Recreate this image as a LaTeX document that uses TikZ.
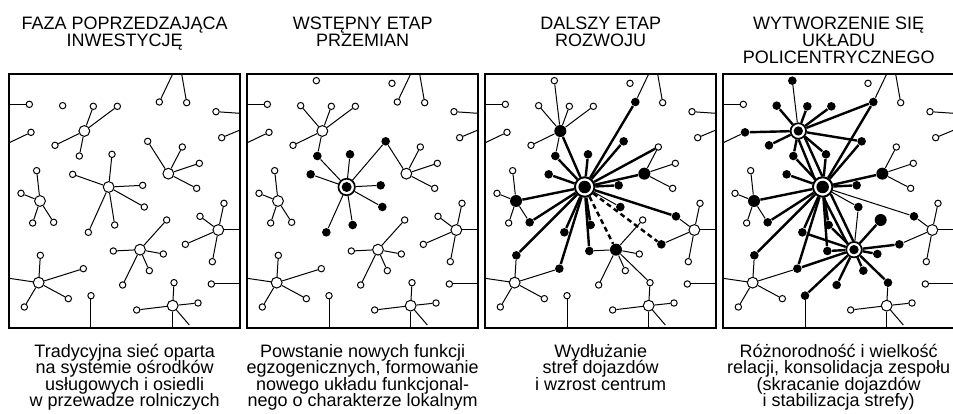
\documentclass[tikz,border=0pt]{standalone}
\usepackage{fontspec}
\setmainfont{Liberation Sans}
\newcommand\placenodes{%
  \coordinate (e1) at (28,133);
  \coordinate (e2) at (28,248);
  \coordinate (e3) at (518,42);
  \coordinate (e4) at (545,42);
  \coordinate (e5) at (720,160);
  \coordinate (e6) at (720,210);
  \coordinate (e7) at (720,510);
  \coordinate (e8) at (28,655);
  \coordinate (e9) at (273,805);
  \coordinate (e10) at (720,672);
  \coordinate (e11) at (518,805);
  \coordinate (e12) at (568,795);
  \node[oc,s-a1/.try] (a1) at (88,133) {};
  \node[oc,s-a2/.try] (a2) at (93,217) {};
  \node[oc,s-a3/.try] (a3) at (188,137) {};
  \node[oc,s-a5/.try] (a5) at (280,139) {};
  \node[oc,s-a6/.try] (a6) at (352,139) {};
  \node[oc,s-a7/.try] (a7) at (165,256) {};
  \node[oc,s-a8/.try] (a8) at (238,288) {};
  \node[oc,s-a9/.try] (a9) at (478,126) {};
  \node[oc] (a10) at (560,128) {};
  \node[oc] (a12) at (648,155) {};
  \node[oc] (a13) at (665,233) {};
  \node[oc,s-a14/.try] (a14) at (443,244) {};
  \node[oc] (a15) at (547,261) {};
  \node[oc] (a16) at (598,310) {};
  \node[oc] (a17) at (590,385) {};
  \node[oc,s-a18/.try] (a18) at (336,283) {};
  \node[oc,s-a19/.try] (a19) at (218,343) {};
  \node[oc,s-a20/.try] (a20) at (428,376) {};
  \node[oc,s-a21/.try] (a21) at (433,441) {};
  \node[oc,s-a22/.try] (a22) at (344,495) {};
  \node[oc,s-a23/.try] (a23) at (265,517) {};
  \node[oc] (a24) at (110,332) {};
  \node[oc] (a25) at (63,400) {};
  \node[oc] (a26) at (98,489) {};
  \node[oc,s-a27/.try] (a27) at (161,487) {};
  \node[oc] (a28) at (672,430) {};
  \node[oc,s-a29/.try] (a29) at (600,469) {};
  \node[oc,s-a30/.try] (a30) at (556,553) {};
  \node[oc] (a31) at (637,605) {};
  \node[oc,s-a32/.try] (a32) at (500,480) {};
  \node[oc,s-a33/.try] (a33) at (340,573) {};
  \node[oc,s-a34/.try] (a34) at (490,582) {};
  \node[oc,s-a35/.try] (a35) at (448,632) {};
  \node[oc,s-a36/.try] (a36) at (368,675) {};
  \node[oc,s-a37/.try] (a37) at (121,586) {};
  \node[oc,s-a38/.try] (a38) at (250,626) {};
  \node[oc] (a39) at (205,716) {};
  \node[oc] (a40) at (73,741) {};
  \node[oc,s-a41/.try] (a41) at (273,707) {};
  \node[oc] (a42) at (634,672) {};
  \node[oc,s-a43/.try] (a43) at (522,668) {};
  \node[oc] (a44) at (594,729) {};
  \node[oc] (a45) at (410,750) {};
  \node[hub,s-h1/.try] (h1) at (253,213) {};
  \node[hub,s-h2/.try] (h2) at (326,381) {};
  \node[hub,s-h3/.try] (h3) at (505,341) {};
  \node[hub,s-h4/.try] (h4) at (120,423) {};
  \node[hub] (h5) at (655,510) {};
  \node[hub,s-h6/.try] (h6) at (420,569) {};
  \node[hub] (h7) at (116,668) {};
  \node[hub] (h8) at (518,737) {};
}
\newcommand\commonlines{%
  \draw[lnA] (a1) -- (e1);
  \draw[lnA] (a2) -- (e2);
  \draw[lnA] (a9) -- (e3);
  \draw[lnA] (a10) -- (e4);
  \draw[lnA] (a12) -- (e5);
  \draw[lnA] (a13) -- (e6);
  \draw[lnA] (h5) -- (e7);
  \draw[lnA] (h7) -- (e8);
  \draw[lnA] (a41) -- (e9);
  \draw[lnA] (a42) -- (e10);
  \draw[lnA] (h8) -- (e11);
  \draw[lnA] (h8) -- (e12);
  \foreach \t in {a15,a16,a17} {\draw[lnA] (h3) -- (\t);}
  \foreach \t in {a24,a25,a26,a27} {\draw[lnA] (h4) -- (\t);}
  \foreach \t in {a28,a29,a30,a31} {\draw[lnA] (h5) -- (\t);}
  \foreach \t in {a37,a38,a39,a40} {\draw[lnA] (h7) -- (\t);}
  \foreach \t in {a43,a44,a45} {\draw[lnA] (h8) -- (\t);}
}
\begin{document}
\begin{tikzpicture}[x=1pt,y=-1pt,
  oc/.style={circle,draw,fill=white,line width=1pt,minimum size=6.4pt,inner sep=0pt},
  hub/.style={circle,draw,fill=white,line width=1pt,minimum size=10.8pt,inner sep=0pt},
  fd/.style={circle,draw=none,fill=black,minimum size=8.6pt,inner sep=0pt},
  fh/.style={circle,draw=none,fill=black,minimum size=12pt,inner sep=0pt},
  dS/.style={circle,draw,fill=white,line width=1.7pt,minimum size=16.5pt,inner sep=0pt},
  dM/.style={circle,draw,fill=white,line width=1.7pt,minimum size=15.5pt,inner sep=0pt},
  dL/.style={circle,draw,fill=white,line width=2pt,minimum size=19.5pt,inner sep=0pt},
  cS/.style={circle,draw=none,fill=black,minimum size=10pt,inner sep=0pt},
  cM/.style={circle,draw=none,fill=black,minimum size=9.3pt,inner sep=0pt},
  cL/.style={circle,draw=none,fill=black,minimum size=12.5pt,inner sep=0pt},
  lnA/.style={line width=1pt},
  lnB/.style={line width=2.4pt},
  lnD/.style={line width=2.4pt,dash pattern=on 5pt off 3.5pt},
  frm/.style={line width=1.9pt},
  ttl/.style={font={\fontsize{18}{16.6}\selectfont\lineskiplimit=-100pt},align=center,anchor=north,inner sep=0pt},
  capt/.style={font={\fontsize{18}{16.5}\selectfont\lineskiplimit=-100pt},align=center,anchor=north,inner sep=0pt}]
\fill[white] (0,0) rectangle (953,414);
\useasboundingbox (0,0) rectangle (953,414);

% ---------- panel 1
\begin{scope}[shift={(0,60)},x=0.33333pt,y=-0.33333pt]
  \placenodes
  \commonlines
  \foreach \t in {a5,a6,a7,a8} {\draw[lnA] (h1) -- (\t);}
  \foreach \t in {a18,a19,a20,a21,a22,a23} {\draw[lnA] (h2) -- (\t);}
  \draw[lnA] (h3) -- (a14);
  \foreach \t in {a32,a33,a34,a35,a36} {\draw[lnA] (h6) -- (\t);}
  \draw[frm] (28,42) rectangle (720,805);
\end{scope}

% ---------- panel 2
\begin{scope}[shift={(238,60)},x=0.33333pt,y=-0.33333pt,
  s-a8/.style={fd},s-a14/.style={fd},s-a18/.style={fd},s-a19/.style={fd},
  s-a20/.style={fd},s-a21/.style={fd},s-a22/.style={fd},s-a23/.style={fd},
  s-h2/.style={dS}]
  \placenodes
  \node[oc] (a4) at (235,62) {};
  \node[oc] (a11) at (462,70) {};
  \node[cS] (h2i) at (h2) {};
  \commonlines
  \foreach \t in {a3,a5,a6,a7,a8} {\draw[lnA] (h1) -- (\t);}
  \foreach \t in {a8,a14,a18,a19,a20,a21,a22,a23} {\draw[lnA] (h2) -- (\t);}
  \draw[lnA] (h3) -- (a14);
  \foreach \t in {a32,a33,a34,a35,a36} {\draw[lnA] (h6) -- (\t);}
  \draw[frm] (28,42) rectangle (720,805);
\end{scope}

% ---------- panel 3
\begin{scope}[shift={(476,60)},x=0.33333pt,y=-0.33333pt,
  s-a8/.style={fd},s-a9/.style={fd},s-a14/.style={fd},s-a18/.style={fd},s-a19/.style={fd},
  s-a20/.style={fd},s-a21/.style={fd},s-a22/.style={fd},s-a23/.style={fd},
  s-a27/.style={fd},s-a29/.style={fd},s-a30/.style={fd},s-a33/.style={fd},
  s-a37/.style={fd},s-a38/.style={fd},
  s-h1/.style={fh},s-h3/.style={fh},s-h4/.style={fh},s-h6/.style={fh},
  s-h2/.style={dL}]
  \placenodes
  \node[oc] (a4) at (235,62) {};
  \node[oc] (a11) at (462,70) {};
  \node[cL] (h2i) at (h2) {};
  \commonlines
  \foreach \t in {a3,a4,a5,a6,a7,a8} {\draw[lnA] (h1) -- (\t);}
  \draw[lnA] (h2) -- (a21);
  \foreach \t in {a32,a33,a34,a35,a36,a43} {\draw[lnA] (h6) -- (\t);}
  \foreach \t in {a9,a14,a15,h3,a20,a18,a8,h1,a19,h4,a27,a37,a23,a38,a22,a33,a29}
    {\draw[lnB] (h2) -- (\t);}
  \draw[lnD] (h2) -- (a30);
  \draw[lnD] (h2) -- (h6);
  \draw[frm] (28,42) rectangle (720,805);
\end{scope}

% ---------- panel 4
\begin{scope}[shift={(714,60)},x=0.33333pt,y=-0.33333pt,
  s-a2/.style={fd},s-a3/.style={fd},s-a5/.style={fd},s-a6/.style={fd},s-a7/.style={fd},
  s-a8/.style={fd},s-a9/.style={fd},s-a14/.style={fd},s-a18/.style={fd},s-a19/.style={fd},
  s-a20/.style={fd},s-a21/.style={fd},s-a22/.style={fd},s-a23/.style={fd},
  s-a27/.style={fd},s-a29/.style={fd},s-a30/.style={fd},s-a33/.style={fd},
  s-a34/.style={fd},s-a35/.style={fd},s-a36/.style={fd},
  s-a37/.style={fd},s-a38/.style={fd},s-a41/.style={fd},s-a43/.style={fd},
  s-a32/.style={fh},s-h3/.style={fh},s-h4/.style={fh},
  s-h1/.style={dM},s-h6/.style={dM},s-h2/.style={dL}]
  \placenodes
  \node[fd] (a4) at (235,62) {};
  \node[oc] (a11) at (462,70) {};
  \node[cM] (h1i) at (h1) {};
  \node[cL] (h2i) at (h2) {};
  \node[cM] (h6i) at (h6) {};
  \commonlines
  \draw[lnA] (h1) -- (a4);
  \draw[lnA] (h2) -- (a21);
  \draw[lnA] (a21) -- (h6);
  \draw[lnA] (h2) -- (a29);
  \foreach \t in {a3,a5,a6,a7,a2,a9,a14,a8,a18} {\draw[lnB] (h1) -- (\t);}
  \draw[lnB] (h1.-44) -- (h2.92);
  \draw[lnB] (h1.-88) -- (h2.136);
  \foreach \t in {a9,a14,h3,a20,a18,a8,a19,h4,a27,a37,a23,a38,a22,a33}
    {\draw[lnB] (h2) -- (\t);}
  \draw[lnB] (h2.-41) -- (h6.95);
  \draw[lnB] (h2.-85) -- (h6.139);
  \foreach \t in {a32,a30,a34,a35,a43,a36,a41,a33,a22,a23,a38}
    {\draw[lnB] (h6) -- (\t);}
  \draw[frm] (28,42) rectangle (720,805);
\end{scope}

% ---------- titles
\node[ttl] (t1) at (124.7,17.1) {FAZA POPRZEDZAJĄCA\\INWESTYCJĘ};
\node[ttl] (t2) at (362.7,17.1) {WSTĘPNY ETAP\\PRZEMIAN};
\node[ttl] (t3) at (600.7,17.1) {DALSZY ETAP\\ROZWOJU};
\node[ttl] (t4) at (838.7,17.1) {WYTWORZENIE SIĘ\\UKŁADU\\POLICENTRYCZNEGO};

% ---------- captions
\node[capt] (b1) at (124.7,344) {Tradycyjna sieć oparta\\na systemie ośrodków\\usługowych i osiedli\\w przewadze rolniczych};
\node[capt] (b2) at (362.7,344) {Powstanie nowych funkcji\\egzogenicznych, formowanie\\nowego układu funkcjonal-\\nego o charakterze lokalnym};
\node[capt] (b3) at (600.7,344) {Wydłużanie\\stref dojazdów\\i wzrost centrum};
\node[capt] (b4) at (838.7,344) {Różnorodność i wielkość\\relacji, konsolidacja zespołu\\(skracanie dojazdów\\i stabilizacja strefy)};
\end{tikzpicture}
\end{document}
